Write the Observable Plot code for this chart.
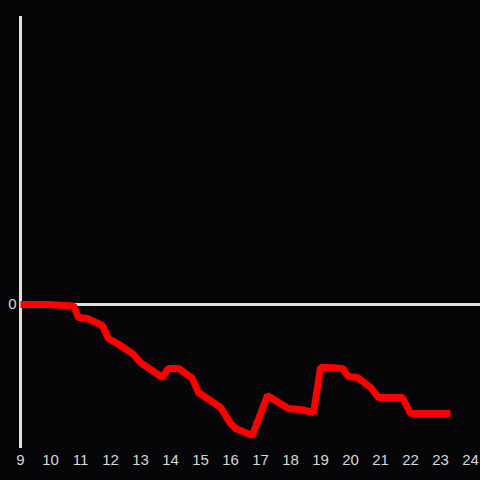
<!DOCTYPE html>
<html>
<head>
<meta charset="utf-8">
<script src="https://cdn.jsdelivr.net/npm/d3@7"></script>
<script src="https://cdn.jsdelivr.net/npm/@observablehq/plot@0.6"></script>
<style>
  html, body { margin: 0; padding: 0; background: #050407; }
</style>
</head>
<body>
<div id="chart"></div>
<script>
const hours = [9.0, 9.9, 10.77, 10.93, 11.23, 11.73, 11.93, 12.23, 12.77, 13.0, 13.73, 13.93, 14.27, 14.73, 14.93, 15.67, 16.0, 16.17, 16.73, 17.23, 17.6, 17.93, 18.33, 18.77, 19.0, 19.33, 19.73, 19.93, 20.23, 20.67, 20.93, 21.73, 22.0, 23.33];
const values = [0, 0, -0.01, -0.09, -0.097, -0.146, -0.236, -0.271, -0.347, -0.403, -0.507, -0.444, -0.444, -0.514, -0.611, -0.715, -0.826, -0.861, -0.91, -0.632, -0.681, -0.722, -0.729, -0.75, -0.4375, -0.4375, -0.444, -0.5, -0.507, -0.576, -0.646, -0.646, -0.757, -0.757];
const xTicks = [9, 10, 11, 12, 13, 14, 15, 16, 17, 18, 19, 20, 21, 22, 23, 24];
const yTicks = [0];

const data = hours.map((h, i) => ({h, v: values[i]}));

const chart = Plot.plot({
  width: 480,
  height: 480,
  marginLeft: 20,
  marginRight: 0,
  marginTop: 16,
  marginBottom: 32,
  style: {background: "#050407", color: "#d8d8d8", fontSize: "15px", fontFamily: "'Liberation Sans', Arial, sans-serif"},
  x: {domain: [9, 9 + 460 / 30], ticks: xTicks, tickSize: 0, tickPadding: 6, tickFormat: d => String(d), label: null},
  y: {domain: [-1, 2], ticks: yTicks, tickSize: 0, tickPadding: 4, tickFormat: d => String(d), label: null},
  marks: [
    Plot.ruleY([0], {stroke: "#e0e0e0", strokeWidth: 3}),
    Plot.ruleX([9], {y1: -1, y2: 2, stroke: "#e0e0e0", strokeWidth: 3}),
    Plot.line(data, {x: "h", y: "v", stroke: "#ff0000", strokeWidth: 7, strokeLinecap: "butt", strokeLinejoin: "miter"})
  ]
});
document.getElementById("chart").appendChild(chart);
</script>
</body>
</html>
